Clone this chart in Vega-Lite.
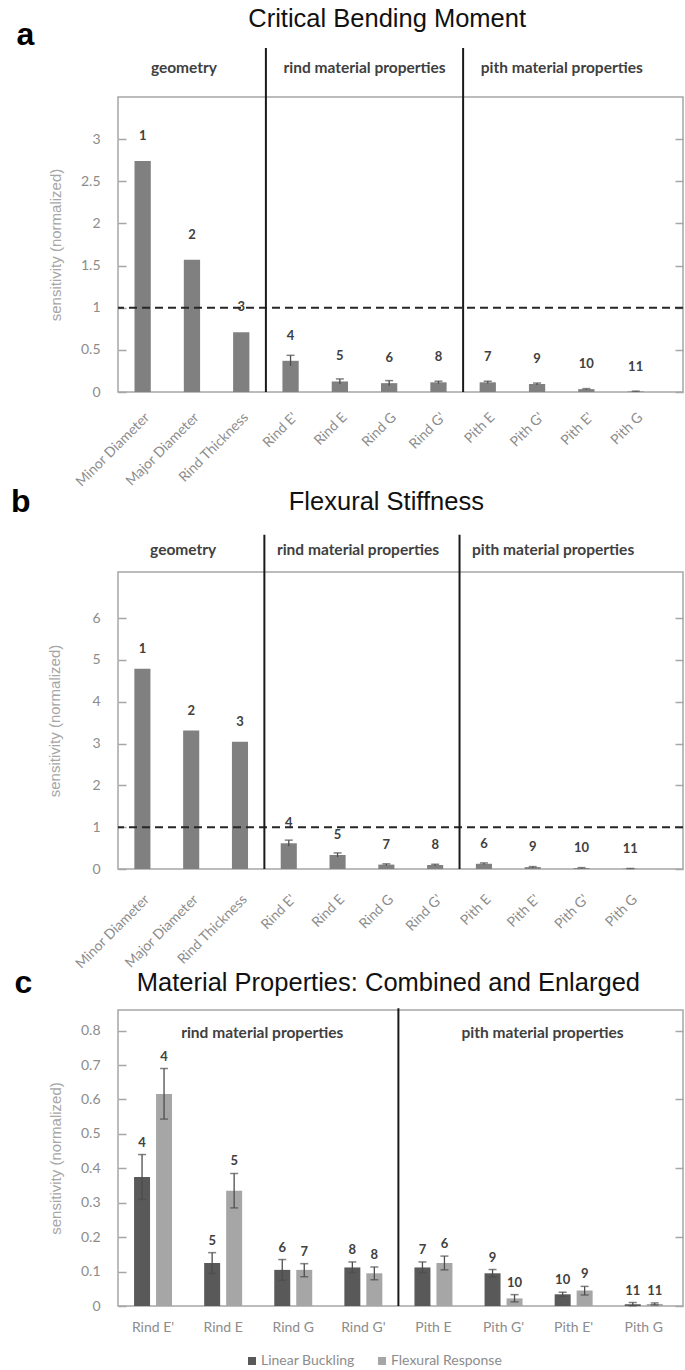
{
  "$schema": "https://vega.github.io/schema/vega-lite/v6.json",
  "padding": {"left": 10, "top": 6, "right": 2, "bottom": 2},
  "spacing": -6,
  "datasets": {
    "a": [
      {"param": "Minor Diameter", "value": 2.74, "rank": 1},
      {"param": "Major Diameter", "value": 1.57, "rank": 2},
      {"param": "Rind Thickness", "value": 0.71, "rank": 3},
      {"param": "Rind E'", "value": 0.37, "lo": 0.31, "hi": 0.435, "rank": 4},
      {"param": "Rind E", "value": 0.125, "lo": 0.095, "hi": 0.155, "rank": 5},
      {"param": "Rind G", "value": 0.105, "lo": 0.075, "hi": 0.135, "rank": 6},
      {"param": "Rind G'", "value": 0.115, "lo": 0.1, "hi": 0.128, "rank": 8},
      {"param": "Pith E", "value": 0.115, "lo": 0.1, "hi": 0.128, "rank": 7},
      {"param": "Pith G'", "value": 0.095, "lo": 0.084, "hi": 0.106, "rank": 9},
      {"param": "Pith E'", "value": 0.034, "lo": 0.028, "hi": 0.04, "rank": 10},
      {"param": "Pith G", "value": 0.005, "lo": 0.001, "hi": 0.01, "rank": 11}
    ],
    "b": [
      {"param": "Minor Diameter", "value": 4.79, "rank": 1},
      {"param": "Major Diameter", "value": 3.31, "rank": 2},
      {"param": "Rind Thickness", "value": 3.04, "rank": 3},
      {"param": "Rind E'", "value": 0.615, "lo": 0.545, "hi": 0.69, "rank": 4},
      {"param": "Rind E", "value": 0.335, "lo": 0.285, "hi": 0.385, "rank": 5},
      {"param": "Rind G", "value": 0.105, "lo": 0.085, "hi": 0.123, "rank": 7},
      {"param": "Rind G'", "value": 0.095, "lo": 0.076, "hi": 0.113, "rank": 8},
      {"param": "Pith E", "value": 0.125, "lo": 0.105, "hi": 0.145, "rank": 6},
      {"param": "Pith E'", "value": 0.045, "lo": 0.032, "hi": 0.057, "rank": 9},
      {"param": "Pith G'", "value": 0.022, "lo": 0.012, "hi": 0.033, "rank": 10},
      {"param": "Pith G", "value": 0.006, "lo": 0.003, "hi": 0.009, "rank": 11}
    ],
    "c": [
      {"param": "Rind E'", "series": "Linear Buckling", "value": 0.375, "lo": 0.31, "hi": 0.44, "rank": 4},
      {"param": "Rind E'", "series": "Flexural Response", "value": 0.616, "lo": 0.543, "hi": 0.69, "rank": 4},
      {"param": "Rind E", "series": "Linear Buckling", "value": 0.125, "lo": 0.095, "hi": 0.155, "rank": 5},
      {"param": "Rind E", "series": "Flexural Response", "value": 0.335, "lo": 0.285, "hi": 0.385, "rank": 5},
      {"param": "Rind G", "series": "Linear Buckling", "value": 0.105, "lo": 0.075, "hi": 0.135, "rank": 6},
      {"param": "Rind G", "series": "Flexural Response", "value": 0.105, "lo": 0.085, "hi": 0.123, "rank": 7},
      {"param": "Rind G'", "series": "Linear Buckling", "value": 0.112, "lo": 0.097, "hi": 0.128, "rank": 8},
      {"param": "Rind G'", "series": "Flexural Response", "value": 0.095, "lo": 0.076, "hi": 0.113, "rank": 8},
      {"param": "Pith E", "series": "Linear Buckling", "value": 0.112, "lo": 0.097, "hi": 0.128, "rank": 7},
      {"param": "Pith E", "series": "Flexural Response", "value": 0.125, "lo": 0.105, "hi": 0.145, "rank": 6},
      {"param": "Pith G'", "series": "Linear Buckling", "value": 0.095, "lo": 0.084, "hi": 0.106, "rank": 9},
      {"param": "Pith G'", "series": "Flexural Response", "value": 0.022, "lo": 0.012, "hi": 0.033, "rank": 10},
      {"param": "Pith E'", "series": "Linear Buckling", "value": 0.034, "lo": 0.028, "hi": 0.04, "rank": 10},
      {"param": "Pith E'", "series": "Flexural Response", "value": 0.045, "lo": 0.032, "hi": 0.057, "rank": 9},
      {"param": "Pith G", "series": "Linear Buckling", "value": 0.005, "lo": 0.001, "hi": 0.01, "rank": 11},
      {"param": "Pith G", "series": "Flexural Response", "value": 0.006, "lo": 0.003, "hi": 0.009, "rank": 11}
    ]
  },
  "vconcat": [
    {
      "title": {"text": "a", "anchor": "start", "frame": "bounds", "font": "Liberation Sans", "fontSize": 32, "fontWeight": "bold", "color": "#000000", "dx": -32, "dy": 49},
      "width": 565,
      "height": 295,
      "resolve": {"axis": {"y": "independent"}},
      "layer": [
        {
          "data": {"name": "a"},
          "mark": {"type": "bar", "width": {"band": 0.33}, "color": "#808080"},
          "encoding": {
            "x": {"field": "param", "type": "nominal", "sort": null, "scale": {"domain": ["Minor Diameter", "Major Diameter", "Rind Thickness", "Rind E'", "Rind E", "Rind G", "Rind G'", "Pith E", "Pith G'", "Pith E'", "Pith G"], "paddingInner": 0, "paddingOuter": 0.23, "align": 0}, "axis": {"title": null, "labelAngle": -45, "labelPadding": 18}},
            "y": {"field": "value", "type": "quantitative", "scale": {"domain": [0, 3.5], "nice": false}, "axis": {"title": "sensitivity (normalized)", "values": [0, 0.5, 1, 1.5, 2, 2.5, 3], "format": "~g"}}
          }
        },
        {
          "data": {"name": "a"},
          "mark": {"type": "rule", "color": "#4d4d4d", "strokeWidth": 1.3},
          "encoding": {
            "x": {"field": "param", "type": "nominal", "sort": null, "scale": {"domain": ["Minor Diameter", "Major Diameter", "Rind Thickness", "Rind E'", "Rind E", "Rind G", "Rind G'", "Pith E", "Pith G'", "Pith E'", "Pith G"], "paddingInner": 0, "paddingOuter": 0.23, "align": 0}},
            "y": {"field": "lo", "type": "quantitative", "scale": {"domain": [0, 3.5], "nice": false}, "axis": {"orient": "right", "labels": false, "title": null, "values": [0, 0.5, 1, 1.5, 2, 2.5, 3]}},
            "y2": {"field": "hi"}
          }
        },
        {
          "data": {"name": "a"},
          "mark": {"type": "tick", "color": "#4d4d4d", "size": 8, "thickness": 1.5},
          "encoding": {
            "x": {"field": "param", "type": "nominal", "sort": null, "scale": {"domain": ["Minor Diameter", "Major Diameter", "Rind Thickness", "Rind E'", "Rind E", "Rind G", "Rind G'", "Pith E", "Pith G'", "Pith E'", "Pith G"], "paddingInner": 0, "paddingOuter": 0.23, "align": 0}},
            "y": {"field": "hi", "type": "quantitative", "scale": {"domain": [0, 3.5], "nice": false}, "axis": null}
          }
        },
        {
          "data": {"name": "a"},
          "mark": {"type": "text", "font": "Lato", "fontSize": 13, "fontWeight": "bold", "color": "#404040", "baseline": "middle", "dy": -25},
          "encoding": {
            "x": {"field": "param", "type": "nominal", "sort": null, "scale": {"domain": ["Minor Diameter", "Major Diameter", "Rind Thickness", "Rind E'", "Rind E", "Rind G", "Rind G'", "Pith E", "Pith G'", "Pith E'", "Pith G"], "paddingInner": 0, "paddingOuter": 0.23, "align": 0}},
            "y": {"field": "value", "type": "quantitative", "scale": {"domain": [0, 3.5], "nice": false}, "axis": null},
            "text": {"field": "rank"}
          }
        },
        {
          "data": {"values": [{"ref": 1}]},
          "mark": {"type": "rule", "color": "#262626", "strokeWidth": 2, "strokeDash": [8, 5]},
          "encoding": {
            "y": {"field": "ref", "type": "quantitative", "scale": {"domain": [0, 3.5], "nice": false}, "axis": null}
          }
        },
        {
          "data": {"values": [{"at": "Rind E'"}, {"at": "Pith E"}]},
          "mark": {"type": "rule", "color": "#1a1a1a", "strokeWidth": 2},
          "encoding": {
            "x": {"field": "at", "type": "nominal", "bandPosition": 0, "scale": {"domain": ["Minor Diameter", "Major Diameter", "Rind Thickness", "Rind E'", "Rind E", "Rind G", "Rind G'", "Pith E", "Pith G'", "Pith E'", "Pith G"], "paddingInner": 0, "paddingOuter": 0.23, "align": 0}},
            "y": {"datum": 0, "type": "quantitative", "scale": {"domain": [0, 3.5], "nice": false}, "axis": null},
            "y2": {"datum": 4.08}
          }
        },
        {
          "data": {"values": [{"at": "Rind G", "label": "rind material properties"}, {"at": "Pith E'", "label": "pith material properties"}]},
          "mark": {"type": "text", "font": "Lato", "fontSize": 15.5, "fontWeight": "bold", "color": "#404040", "baseline": "middle"},
          "encoding": {
            "x": {"field": "at", "type": "nominal", "bandPosition": 0, "scale": {"domain": ["Minor Diameter", "Major Diameter", "Rind Thickness", "Rind E'", "Rind E", "Rind G", "Rind G'", "Pith E", "Pith G'", "Pith E'", "Pith G"], "paddingInner": 0, "paddingOuter": 0.23, "align": 0}},
            "y": {"datum": 3.84, "type": "quantitative", "scale": {"domain": [0, 3.5], "nice": false}, "axis": null},
            "text": {"field": "label"}
          }
        },
        {
          "data": {"values": [{"at": "Major Diameter", "label": "geometry"}]},
          "mark": {"type": "text", "font": "Lato", "fontSize": 15.5, "fontWeight": "bold", "color": "#404040", "baseline": "middle", "dx": -8},
          "encoding": {
            "x": {"field": "at", "type": "nominal", "scale": {"domain": ["Minor Diameter", "Major Diameter", "Rind Thickness", "Rind E'", "Rind E", "Rind G", "Rind G'", "Pith E", "Pith G'", "Pith E'", "Pith G"], "paddingInner": 0, "paddingOuter": 0.23, "align": 0}},
            "y": {"datum": 3.84, "type": "quantitative", "scale": {"domain": [0, 3.5], "nice": false}, "axis": null},
            "text": {"field": "label"}
          }
        },
        {
          "data": {"values": [{"at": "Rind G", "label": "Critical Bending Moment"}]},
          "mark": {"type": "text", "font": "Liberation Sans", "fontSize": 25.5, "color": "#111111", "baseline": "middle", "dx": -2},
          "encoding": {
            "x": {"field": "at", "type": "nominal", "scale": {"domain": ["Minor Diameter", "Major Diameter", "Rind Thickness", "Rind E'", "Rind E", "Rind G", "Rind G'", "Pith E", "Pith G'", "Pith E'", "Pith G"], "paddingInner": 0, "paddingOuter": 0.23, "align": 0}},
            "y": {"datum": 4.42, "type": "quantitative", "scale": {"domain": [0, 3.5], "nice": false}, "axis": null},
            "text": {"field": "label"}
          }
        }
      ]
    },
    {
      "title": {"text": "b", "anchor": "start", "frame": "bounds", "font": "Liberation Sans", "fontSize": 32, "fontWeight": "bold", "color": "#000000", "dx": -37, "dy": 33},
      "width": 565,
      "height": 297,
      "resolve": {"axis": {"y": "independent"}},
      "layer": [
        {
          "data": {"name": "b"},
          "mark": {"type": "bar", "width": {"band": 0.33}, "color": "#808080"},
          "encoding": {
            "x": {"field": "param", "type": "nominal", "sort": null, "scale": {"domain": ["Minor Diameter", "Major Diameter", "Rind Thickness", "Rind E'", "Rind E", "Rind G", "Rind G'", "Pith E", "Pith E'", "Pith G'", "Pith G"], "paddingInner": 0, "paddingOuter": 0.29, "align": 0}, "axis": {"title": null, "labelAngle": -45, "labelPadding": 23}},
            "y": {"field": "value", "type": "quantitative", "scale": {"domain": [0, 7.1], "nice": false}, "axis": {"title": "sensitivity (normalized)", "values": [0, 1, 2, 3, 4, 5, 6], "format": "~g", "titlePadding": 29}}
          }
        },
        {
          "data": {"name": "b"},
          "mark": {"type": "rule", "color": "#4d4d4d", "strokeWidth": 1.3},
          "encoding": {
            "x": {"field": "param", "type": "nominal", "sort": null, "scale": {"domain": ["Minor Diameter", "Major Diameter", "Rind Thickness", "Rind E'", "Rind E", "Rind G", "Rind G'", "Pith E", "Pith E'", "Pith G'", "Pith G"], "paddingInner": 0, "paddingOuter": 0.29, "align": 0}},
            "y": {"field": "lo", "type": "quantitative", "scale": {"domain": [0, 7.1], "nice": false}, "axis": {"orient": "right", "labels": false, "title": null, "values": [0, 1, 2, 3, 4, 5, 6]}},
            "y2": {"field": "hi"}
          }
        },
        {
          "data": {"name": "b"},
          "mark": {"type": "tick", "color": "#4d4d4d", "size": 8, "thickness": 1.5},
          "encoding": {
            "x": {"field": "param", "type": "nominal", "sort": null, "scale": {"domain": ["Minor Diameter", "Major Diameter", "Rind Thickness", "Rind E'", "Rind E", "Rind G", "Rind G'", "Pith E", "Pith E'", "Pith G'", "Pith G"], "paddingInner": 0, "paddingOuter": 0.29, "align": 0}},
            "y": {"field": "hi", "type": "quantitative", "scale": {"domain": [0, 7.1], "nice": false}, "axis": null}
          }
        },
        {
          "data": {"name": "b"},
          "mark": {"type": "text", "font": "Lato", "fontSize": 13, "fontWeight": "bold", "color": "#404040", "baseline": "middle", "dy": -20},
          "encoding": {
            "x": {"field": "param", "type": "nominal", "sort": null, "scale": {"domain": ["Minor Diameter", "Major Diameter", "Rind Thickness", "Rind E'", "Rind E", "Rind G", "Rind G'", "Pith E", "Pith E'", "Pith G'", "Pith G"], "paddingInner": 0, "paddingOuter": 0.29, "align": 0}},
            "y": {"field": "value", "type": "quantitative", "scale": {"domain": [0, 7.1], "nice": false}, "axis": null},
            "text": {"field": "rank"}
          }
        },
        {
          "data": {"values": [{"ref": 1}]},
          "mark": {"type": "rule", "color": "#262626", "strokeWidth": 2, "strokeDash": [8, 5]},
          "encoding": {
            "y": {"field": "ref", "type": "quantitative", "scale": {"domain": [0, 7.1], "nice": false}, "axis": null}
          }
        },
        {
          "data": {"values": [{"at": "Rind E'"}, {"at": "Pith E"}]},
          "mark": {"type": "rule", "color": "#1a1a1a", "strokeWidth": 2},
          "encoding": {
            "x": {"field": "at", "type": "nominal", "bandPosition": 0, "scale": {"domain": ["Minor Diameter", "Major Diameter", "Rind Thickness", "Rind E'", "Rind E", "Rind G", "Rind G'", "Pith E", "Pith E'", "Pith G'", "Pith G"], "paddingInner": 0, "paddingOuter": 0.29, "align": 0}},
            "y": {"datum": 0, "type": "quantitative", "scale": {"domain": [0, 7.1], "nice": false}, "axis": null},
            "y2": {"datum": 7.99}
          }
        },
        {
          "data": {"values": [{"at": "Rind G", "label": "rind material properties"}, {"at": "Pith G'", "label": "pith material properties"}]},
          "mark": {"type": "text", "font": "Lato", "fontSize": 15.5, "fontWeight": "bold", "color": "#404040", "baseline": "middle", "dx": -4},
          "encoding": {
            "x": {"field": "at", "type": "nominal", "bandPosition": 0, "scale": {"domain": ["Minor Diameter", "Major Diameter", "Rind Thickness", "Rind E'", "Rind E", "Rind G", "Rind G'", "Pith E", "Pith E'", "Pith G'", "Pith G"], "paddingInner": 0, "paddingOuter": 0.29, "align": 0}},
            "y": {"datum": 7.63, "type": "quantitative", "scale": {"domain": [0, 7.1], "nice": false}, "axis": null},
            "text": {"field": "label"}
          }
        },
        {
          "data": {"values": [{"at": "Major Diameter", "label": "geometry"}]},
          "mark": {"type": "text", "font": "Lato", "fontSize": 15.5, "fontWeight": "bold", "color": "#404040", "baseline": "middle", "dx": -8},
          "encoding": {
            "x": {"field": "at", "type": "nominal", "scale": {"domain": ["Minor Diameter", "Major Diameter", "Rind Thickness", "Rind E'", "Rind E", "Rind G", "Rind G'", "Pith E", "Pith E'", "Pith G'", "Pith G"], "paddingInner": 0, "paddingOuter": 0.29, "align": 0}},
            "y": {"datum": 7.63, "type": "quantitative", "scale": {"domain": [0, 7.1], "nice": false}, "axis": null},
            "text": {"field": "label"}
          }
        },
        {
          "data": {"values": [{"at": "Rind G", "label": "Flexural Stiffness"}]},
          "mark": {"type": "text", "font": "Liberation Sans", "fontSize": 25.5, "color": "#111111", "baseline": "middle"},
          "encoding": {
            "x": {"field": "at", "type": "nominal", "scale": {"domain": ["Minor Diameter", "Major Diameter", "Rind Thickness", "Rind E'", "Rind E", "Rind G", "Rind G'", "Pith E", "Pith E'", "Pith G'", "Pith G"], "paddingInner": 0, "paddingOuter": 0.29, "align": 0}},
            "y": {"datum": 8.78, "type": "quantitative", "scale": {"domain": [0, 7.1], "nice": false}, "axis": null},
            "text": {"field": "label"}
          }
        }
      ]
    },
    {
      "title": {"text": "c", "anchor": "start", "frame": "bounds", "font": "Liberation Sans", "fontSize": 32, "fontWeight": "bold", "color": "#000000", "dx": -34, "dy": 33},
      "width": 565,
      "height": 296,
      "resolve": {"axis": {"y": "independent"}},
      "layer": [
        {
          "data": {"name": "c"},
          "mark": {"type": "bar"},
          "encoding": {
            "x": {"field": "param", "type": "nominal", "sort": null, "scale": {"domain": ["Rind E'", "Rind E", "Rind G", "Rind G'", "Pith E", "Pith G'", "Pith E'", "Pith G"], "paddingInner": 0, "paddingOuter": 0.03, "align": 0}, "axis": {"title": null, "labelAngle": 0, "labelPadding": 14, "labelFontSize": 14}},
            "xOffset": {"field": "series", "type": "nominal", "scale": {"domain": ["Linear Buckling", "Flexural Response"], "paddingInner": 0.273, "paddingOuter": 0.73}},
            "y": {"field": "value", "type": "quantitative", "scale": {"domain": [0, 0.86], "nice": false}, "axis": {"title": "sensitivity (normalized)", "values": [0, 0.1, 0.2, 0.3, 0.4, 0.5, 0.6, 0.7, 0.8], "format": "~g"}},
            "color": {"field": "series", "type": "nominal", "scale": {"domain": ["Linear Buckling", "Flexural Response"], "range": ["#595959", "#a6a6a6"]}, "legend": {"title": null, "orient": "none", "legendX": 127, "legendY": 1257}}
          }
        },
        {
          "data": {"name": "c"},
          "mark": {"type": "rule", "color": "#4d4d4d", "strokeWidth": 1.3},
          "encoding": {
            "x": {"field": "param", "type": "nominal", "sort": null, "scale": {"domain": ["Rind E'", "Rind E", "Rind G", "Rind G'", "Pith E", "Pith G'", "Pith E'", "Pith G"], "paddingInner": 0, "paddingOuter": 0.03, "align": 0}},
            "xOffset": {"field": "series", "type": "nominal", "scale": {"domain": ["Linear Buckling", "Flexural Response"], "paddingInner": 0.273, "paddingOuter": 0.73}},
            "y": {"field": "lo", "type": "quantitative", "scale": {"domain": [0, 0.86], "nice": false}, "axis": {"orient": "right", "labels": false, "title": null, "values": [0, 0.2, 0.4, 0.6, 0.8]}},
            "y2": {"field": "hi"}
          }
        },
        {
          "data": {"name": "c"},
          "mark": {"type": "tick", "color": "#4d4d4d", "size": 8, "thickness": 1.5},
          "encoding": {
            "x": {"field": "param", "type": "nominal", "sort": null, "scale": {"domain": ["Rind E'", "Rind E", "Rind G", "Rind G'", "Pith E", "Pith G'", "Pith E'", "Pith G"], "paddingInner": 0, "paddingOuter": 0.03, "align": 0}},
            "xOffset": {"field": "series", "type": "nominal", "scale": {"domain": ["Linear Buckling", "Flexural Response"], "paddingInner": 0.273, "paddingOuter": 0.73}},
            "y": {"field": "hi", "type": "quantitative", "scale": {"domain": [0, 0.86], "nice": false}, "axis": null}
          }
        },
        {
          "data": {"name": "c"},
          "mark": {"type": "tick", "color": "#4d4d4d", "size": 8, "thickness": 1.5},
          "encoding": {
            "x": {"field": "param", "type": "nominal", "sort": null, "scale": {"domain": ["Rind E'", "Rind E", "Rind G", "Rind G'", "Pith E", "Pith G'", "Pith E'", "Pith G"], "paddingInner": 0, "paddingOuter": 0.03, "align": 0}},
            "xOffset": {"field": "series", "type": "nominal", "scale": {"domain": ["Linear Buckling", "Flexural Response"], "paddingInner": 0.273, "paddingOuter": 0.73}},
            "y": {"field": "lo", "type": "quantitative", "scale": {"domain": [0, 0.86], "nice": false}, "axis": null}
          }
        },
        {
          "data": {"name": "c"},
          "mark": {"type": "text", "font": "Lato", "fontSize": 13, "fontWeight": "bold", "color": "#404040", "baseline": "middle", "dy": -12},
          "encoding": {
            "x": {"field": "param", "type": "nominal", "sort": null, "scale": {"domain": ["Rind E'", "Rind E", "Rind G", "Rind G'", "Pith E", "Pith G'", "Pith E'", "Pith G"], "paddingInner": 0, "paddingOuter": 0.03, "align": 0}},
            "xOffset": {"field": "series", "type": "nominal", "scale": {"domain": ["Linear Buckling", "Flexural Response"], "paddingInner": 0.273, "paddingOuter": 0.73}},
            "y": {"field": "hi", "type": "quantitative", "scale": {"domain": [0, 0.86], "nice": false}, "axis": null},
            "text": {"field": "rank"}
          }
        },
        {
          "data": {"values": [{"at": "Pith E"}]},
          "mark": {"type": "rule", "color": "#1a1a1a", "strokeWidth": 2},
          "encoding": {
            "x": {"field": "at", "type": "nominal", "bandPosition": 0, "scale": {"domain": ["Rind E'", "Rind E", "Rind G", "Rind G'", "Pith E", "Pith G'", "Pith E'", "Pith G"], "paddingInner": 0, "paddingOuter": 0.03, "align": 0}},
            "y": {"datum": 0, "type": "quantitative", "scale": {"domain": [0, 0.86], "nice": false}, "axis": null},
            "y2": {"datum": 0.865}
          }
        },
        {
          "data": {"values": [{"at": "Rind G", "label": "rind material properties"}, {"at": "Pith E'", "label": "pith material properties"}]},
          "mark": {"type": "text", "font": "Lato", "fontSize": 15.5, "fontWeight": "bold", "color": "#404040", "baseline": "middle", "dx": 4},
          "encoding": {
            "x": {"field": "at", "type": "nominal", "bandPosition": 0, "scale": {"domain": ["Rind E'", "Rind E", "Rind G", "Rind G'", "Pith E", "Pith G'", "Pith E'", "Pith G"], "paddingInner": 0, "paddingOuter": 0.03, "align": 0}},
            "y": {"datum": 0.794, "type": "quantitative", "scale": {"domain": [0, 0.86], "nice": false}, "axis": null},
            "text": {"field": "label"}
          }
        },
        {
          "data": {"values": [{"at": "Pith E", "label": "Material Properties: Combined and Enlarged"}]},
          "mark": {"type": "text", "font": "Liberation Sans", "fontSize": 25.5, "color": "#111111", "baseline": "middle", "dx": -10},
          "encoding": {
            "x": {"field": "at", "type": "nominal", "bandPosition": 0, "scale": {"domain": ["Rind E'", "Rind E", "Rind G", "Rind G'", "Pith E", "Pith G'", "Pith E'", "Pith G"], "paddingInner": 0, "paddingOuter": 0.03, "align": 0}},
            "y": {"datum": 0.939, "type": "quantitative", "scale": {"domain": [0, 0.86], "nice": false}, "axis": null},
            "text": {"field": "label"}
          }
        }
      ]
    }
  ],
  "config": {
    "view": {"stroke": "#a6a6a6", "strokeWidth": 1.5},
    "axisY": {"domain": false, "grid": false, "tickSize": -8, "tickColor": "#a6a6a6", "tickWidth": 1.5, "labelFont": "Lato", "labelFontSize": 14, "labelColor": "#8c8c8c", "labelPadding": 26, "titleFont": "Liberation Sans", "titleFontSize": 15, "titleFontWeight": "normal", "titleColor": "#a6a6a6", "titlePadding": 17},
    "axisX": {"domain": false, "ticks": false, "grid": false, "labelFont": "Lato", "labelFontSize": 14, "labelColor": "#8c8c8c", "labelPadding": 12},
    "legend": {"direction": "horizontal", "padding": 0, "symbolType": "square", "symbolSize": 64, "symbolStrokeWidth": 0, "labelFont": "Lato", "labelFontSize": 14, "labelColor": "#8c8c8c", "columnPadding": 20, "labelOffset": 2}
  }
}
